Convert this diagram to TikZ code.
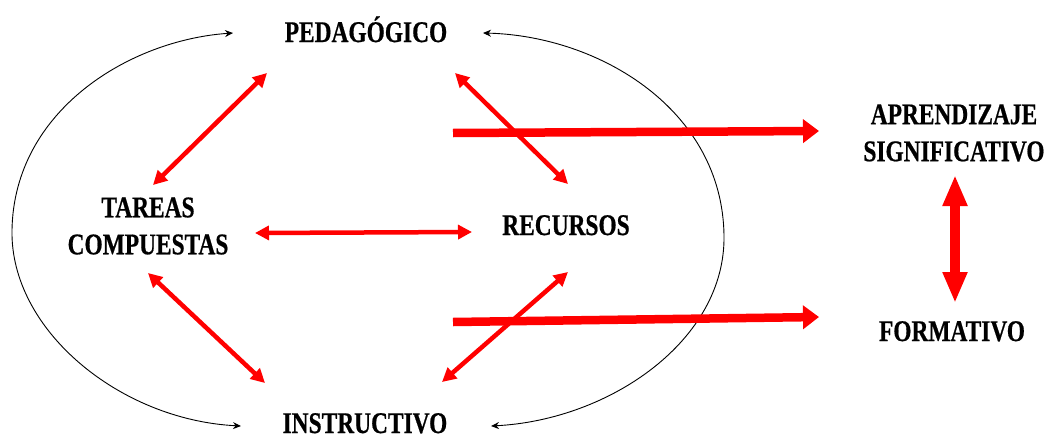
\documentclass[tikz,border=0pt]{standalone}
\usepackage{fontspec}
\newfontfamily\lblfont{Liberation Serif}[FakeStretch=0.78,FakeBold=0.6]
\usetikzlibrary{arrows.meta,calc}
\begin{document}
\begin{tikzpicture}[x=1pt,y=-1pt,
  lbl/.style={font=\lblfont\bfseries\fontsize{30}{37}\selectfont, align=center, inner sep=0pt},
  oneline/.style={lbl, text height=20pt, text depth=0pt},
  loopcurve/.style={black, line width=0.9pt, {Stealth[length=8pt,width=7pt]}-{Stealth[length=8pt,width=7pt]}},
  relarrow/.style={red, line width=4.5pt, {Triangle[length=14pt,width=14pt]}-{Triangle[length=14pt,width=14pt]}},
  fatarrow/.style={red, line width=8.5pt, -{Triangle[length=16pt,width=23pt]}},
  bigdouble/.style={red, line width=10pt, {Triangle[length=31pt,width=23pt]}-{Triangle[length=31pt,width=23pt]}}]
  \useasboundingbox (0,0) rectangle (1052,439);

  % Draw the labels
  \node[oneline] (ped)  at (366,32)  {PEDAGÓGICO};
  \node[lbl]     (tar)  at (148,226) {TAREAS\\COMPUESTAS};
  \node[oneline] (rec)  at (566,225) {RECURSOS};
  \node[oneline] (ins)  at (365,423) {INSTRUCTIVO};
  \node[lbl]     (apr)  at (954,133) {APRENDIZAJE\\SIGNIFICATIVO};
  \node[oneline] (form) at (952,331) {FORMATIVO};

  % Draw black curves round the left and right side
  \draw[loopcurve] ($(ped)+(-133,1)$) .. controls (130,40) and (14,110) .. (12,230)
                   .. controls (10,330) and (120,420) .. ($(ins)+(-124,3)$);
  \draw[loopcurve] ($(ped)+(117,1)$) .. controls (600,36) and (722,110) .. (724,235)
                   .. controls (726,340) and (610,420) .. ($(ins)+(126,3)$);

  % Draw red links between the four labels
  \draw[relarrow] ($(ped)+(-99,41)$) -- ($(tar)+(5,-41)$);
  \draw[relarrow] ($(tar)+(107,7)$)  -- ($(rec)+(-94,7)$);
  \draw[relarrow] ($(tar)+(0,47)$)   -- ($(ins)+(-100,-40)$);
  \draw[relarrow] ($(ped)+(89,41)$)  -- ($(rec)+(2,-41)$);
  \draw[relarrow] ($(rec)+(2,47)$)   -- ($(ins)+(77,-41)$);

  % Draw thick arrows to the right side
  \coordinate (src1) at (453,133);
  \coordinate (src2) at (453,322);
  \draw[fatarrow] (src1) -- ($(apr)+(-135,-2)$);
  \draw[fatarrow] (src2) -- ($(form)+(-133,-14)$);
  \draw[bigdouble] ($(apr)+(1,42)$) -- ($(form)+(3,-28)$);
\end{tikzpicture}
\end{document}
